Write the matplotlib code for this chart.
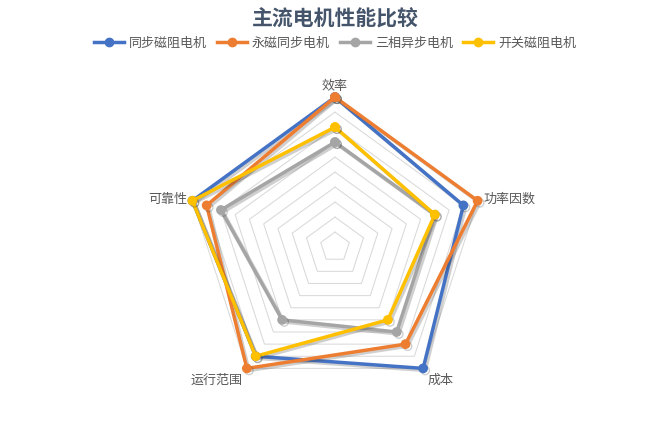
import numpy as np
import matplotlib
matplotlib.use("Agg")
import matplotlib.pyplot as plt
import matplotlib.patheffects as pe
from matplotlib.lines import Line2D

plt.rcParams['font.family'] = ['Noto Sans CJK SC', 'DejaVu Sans']

categories = ['效率', '功率因数', '成本', '运行范围', '可靠性']
series_names = ['同步磁阻电机', '永磁同步电机', '三相异步电机', '开关磁阻电机']
synrm = [10, 9, 10, 9, 10]
pmsm = [10, 10, 8, 10, 9]
induction = [7, 7, 7, 6, 8]
srm = [8, 7, 6, 9, 10]
series_values = [synrm, pmsm, induction, srm]
colors = ['#4472C4', '#ED7D31', '#A5A5A5', '#FFC000']
ring_levels = list(range(1, 11))

fig = plt.figure(figsize=(6.68, 4.26), dpi=100)
ax = fig.add_axes([0.277, 0.068, 0.449, 0.704], projection='polar')
ax.set_theta_offset(np.pi / 2)
ax.set_theta_direction(-1)
ax.set_ylim(0, 10)
ax.grid(False)
ax.set_frame_on(False)
ax.set_xticks([])
ax.set_yticks([])

n = len(categories)
theta = np.linspace(0, 2 * np.pi, n, endpoint=False)
theta_c = np.append(theta, theta[0])

for lv in ring_levels:
    ax.plot(theta_c, [lv] * (n + 1), color='#D9D9D9', lw=0.75, zorder=1)

handles = []
for name, vals, col in zip(series_names, series_values, colors):
    v = list(vals) + [vals[0]]
    ax.plot(theta_c, v, color=col, lw=2.5, marker='o', markersize=6,
            zorder=3, clip_on=False,
            path_effects=[pe.SimpleLineShadow(offset=(1.5, -1.5), alpha=0.25, shadow_color='#404040'),
                          pe.Normal()])
    handles.append(Line2D([], [], color=col, lw=2.5, marker='o', markersize=6, label=name))

label_cfg = [
    (10.25, 'center', 'bottom'),
    (10.4, 'left', 'center'),
    (10.45, 'left', 'top'),
    (10.45, 'right', 'top'),
    (10.35, 'right', 'center'),
]
for t, lab, (r, ha, va) in zip(theta, categories, label_cfg):
    ax.text(t, r, lab, ha=ha, va=va, fontsize=9.4, color='#595959')

fig.text(0.5015, 0.955, '主流电机性能比较', ha='center', va='center',
         fontsize=15, fontweight='bold', color='#44546A')

fig.legend(handles=handles, loc='center', bbox_to_anchor=(0.5015, 0.899), ncol=4, frameon=False,
           fontsize=9.4, handlelength=2.3, handletextpad=0.35, columnspacing=0.8,
           labelcolor='#595959')

fig.savefig('out.png', dpi=100)
